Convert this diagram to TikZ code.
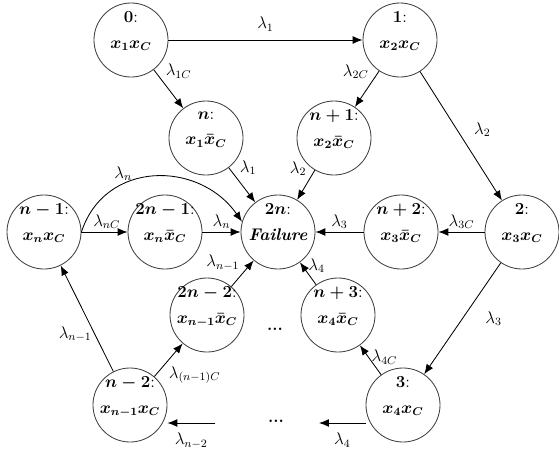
\documentclass[tikz,border=0pt]{standalone}
\usepackage{amsmath}
\usetikzlibrary{arrows.meta}

\begin{document}
\begin{tikzpicture}[x=0.025cm, y=-0.025cm, >={Latex[length=7pt, width=5.5pt]},
    state/.style={draw=black!75, line width=0.6pt, circle, minimum size=1.85cm,
        inner sep=-4pt, align=center, text depth=14pt, font=\large\boldmath},
    rate/.style={font=\large, inner sep=2pt},
    every path/.style={line width=0.6pt}]

    \useasboundingbox (0,0) rectangle (559,448);

    \node[state] (s0) at (131,40)
        {$0$:\\[4pt] $x_1x_C$};

    \node[state] (s1) at (400,40)
        {$1$:\\[4pt] $x_2x_C$};

    \node[state] (sn) at (206,138)
        {$n$:\\[4pt] $x_1\bar{x}_C$};

    \node[state] (sn1) at (334,138)
        {$n+1$:\\[4pt] $x_2\bar{x}_C$};

    \node[state] (snm1) at (44,232)
        {$n-1$:\\[4pt] $x_nx_C$};

    \node[state] (s2nm1) at (165,232)
        {$2n-1$:\\[4pt] $x_n\bar{x}_C$};

    \node[state] (fail) at (278,232)
        {$2n$:\\[4pt] \textbf{\textit{Failure}}};

    \node[state] (sn2) at (401,232)
        {$n+2$:\\[4pt] $x_3\bar{x}_C$};

    \node[state] (s2) at (522,232)
        {$2$:\\[4pt] $x_3x_C$};

    \node[state] (s2nm2) at (207,315)
        {$2n-2$:\\[4pt] $x_{n-1}\bar{x}_C$};

    \node[state] (sn3) at (338,315)
        {$n+3$:\\[4pt] $x_4\bar{x}_C$};

    \node[state] (snm2) at (130,405)
        {$n-2$:\\[4pt] $x_{n-1}x_C$};

    \node[state] (s3) at (403,405)
        {$3$:\\[4pt] $x_4x_C$};

    \node[font=\large\bfseries] (dotsmid) at (275,329) {...};
    \node[font=\large\bfseries] (dotsbot) at (276,421) {...};

    \coordinate (inend) at (215,423);
    \coordinate (outend) at (319,423);

    % top row
    \draw[->] (s0) -- node[rate, above=4pt] {$\lambda_1$} (s1);
    \draw[->] (s0) -- node[rate, pos=0.3, above right] {$\lambda_{1C}$} (sn);
    \draw[->] (s1) -- node[rate, pos=0.3, above left] {$\lambda_{2C}$} (sn1);
    \draw[->] (s1) -- node[rate, pos=0.45, right=10pt] {$\lambda_2$} (s2);

    \draw[->] (sn) -- node[rate, pos=0.3, above right] {$\lambda_1$} (fail);
    \draw[->] (sn1) -- node[rate, pos=0.3, above left] {$\lambda_2$} (fail);

    % middle row
    \draw[->] (snm1.east) to[out=72, in=125, looseness=1.2]
        node[rate, pos=0.33, above] {$\lambda_n$} (fail.164);
    \draw[->] (snm1.east) -- node[rate, pos=0.55, above] {$\lambda_{nC}$} (s2nm1);
    \draw[->] (s2nm1) -- node[rate, above] {$\lambda_n$} (fail);
    \draw[->] (sn2) -- node[rate, above] {$\lambda_3$} (fail);
    \draw[->] (s2) -- node[rate, above] {$\lambda_{3C}$} (sn2);

    \draw[->] (s2nm2) -- node[rate, pos=0.5, above left] {$\lambda_{n-1}$} (fail);
    \draw[->] (sn3) -- node[rate, pos=0.85, right=2pt] {$\lambda_4$} (fail);

    % bottom row
    \draw[->] (s2) -- node[rate, pos=0.5, right=14pt] {$\lambda_3$} (s3);
    \draw[->] (s3) -- node[rate, pos=0.6, right] {$\lambda_{4C}$} (sn3);
    \draw[->] (snm2) -- node[rate, pos=0.4, below right] {$\lambda_{(n-1)C}$} (s2nm2);
    \draw[->] (snm2) -- node[rate, pos=0.35, left=0pt] {$\lambda_{n-1}$} (snm1);

    \draw[->] (s3.west |- outend) -- node[rate, below=5pt] {$\lambda_4$} (outend);
    \draw[->] (inend) -- node[rate, below=5pt] {$\lambda_{n-2}$} (snm2.east |- inend);

\end{tikzpicture}
\end{document}
